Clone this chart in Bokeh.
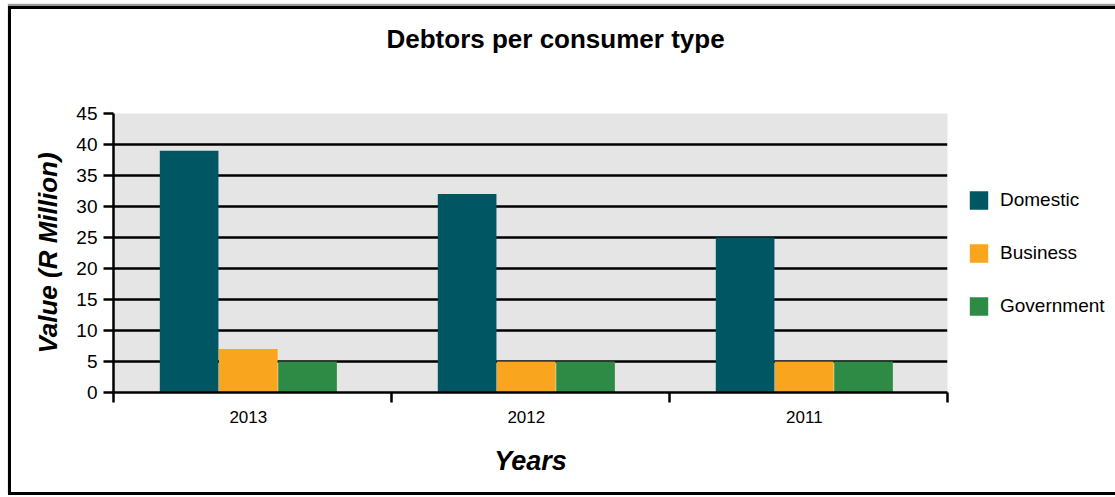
from bokeh.plotting import figure
from bokeh.models import FixedTicker, Legend, LegendItem, ColumnDataSource, Range1d, Title
from bokeh.embed import file_html
from bokeh.resources import INLINE
from bokeh.transform import dodge

# ---- data ----
title_text = "Debtors per consumer type"
years = ["2013", "2012", "2011"]
series = ["Domestic", "Business", "Government"]
domestic = [39, 32, 25]
business = [7, 5, 5]
government = [5, 5, 5]
y_ticks = [0, 5, 10, 15, 20, 25, 30, 35, 40, 45]
colors = ["#005763", "#f9a61e", "#2e8b45"]

x_pos = [round(i + 0.485, 3) for i in range(len(years))]
bounds = list(range(len(years) + 1))

src = ColumnDataSource(dict(x=x_pos, Domestic=domestic, Business=business, Government=government))

p = figure(frame_width=834, frame_height=279, output_backend="svg", toolbar_location=None,
           title=None,
           x_range=Range1d(0, len(years)), y_range=Range1d(0, 45),
           min_border_left=102, min_border_right=160, min_border_top=104, min_border_bottom=100)
p.styles = {"border": "3px solid black", "box-shadow": "0px -2px 1px #999999"}
p.margin = (6, 0, 0, 8)

p.background_fill_color = "#e5e5e5"
p.border_fill_color = "white"
p.outline_line_color = None

offsets = [-0.213, 0.0, 0.213]
renderers = []
for s, off, c in zip(series, offsets, colors):
    r = p.vbar(x=dodge("x", off, range=p.x_range), top=s, width=0.211, bottom=0,
               source=src, fill_color=c, line_color=None)
    renderers.append(r)

# title (spacer nearest the frame, then the real title)
spacer = Title(text=" ", text_font_size="1px", standoff=52)
p.add_layout(spacer, "above")
main_title = Title(text=title_text, text_font="Liberation Sans", text_font_size="26px",
                   text_font_style="bold", text_color="black", align="left", offset=273,
                   standoff=10)
p.add_layout(main_title, "above")

# x axis
xa = p.xaxis[0]
xa.ticker = FixedTicker(ticks=x_pos, minor_ticks=bounds)
xa.major_label_overrides = {x: y for x, y in zip(x_pos, years)}
xa.major_tick_line_color = None
xa.major_tick_out = 10
xa.major_tick_in = 0
xa.minor_tick_line_color = "black"
xa.minor_tick_line_width = 2.5
xa.minor_tick_out = 10
xa.minor_tick_in = 0
xa.axis_line_color = "black"
xa.axis_line_width = 2.5
xa.major_label_text_font = "Liberation Sans"
xa.major_label_text_font_size = "17px"
xa.major_label_text_color = "black"
xa.major_label_standoff = 8
xa.axis_label = "Years"
xa.axis_label_text_font = "Liberation Sans"
xa.axis_label_text_font_size = "27px"
xa.axis_label_text_font_style = "bold italic"
xa.axis_label_text_color = "black"
xa.axis_label_standoff = 20

# y axis
ya = p.yaxis[0]
ya.ticker = FixedTicker(ticks=y_ticks)
ya.minor_tick_line_color = None
ya.major_tick_out = 10
ya.major_tick_in = 0
ya.major_tick_line_width = 2.5
ya.major_tick_line_color = "black"
ya.axis_line_color = "black"
ya.axis_line_width = 2.5
ya.major_label_text_font = "Liberation Sans"
ya.major_label_text_font_size = "19px"
ya.major_label_text_color = "black"
ya.major_label_standoff = 6
ya.axis_label = "Value (R Million)"
ya.axis_label_text_font = "Liberation Sans"
ya.axis_label_text_font_size = "26px"
ya.axis_label_text_font_style = "bold italic"
ya.axis_label_text_color = "black"
ya.axis_label_standoff = 10

# grid
p.xgrid.visible = False
p.ygrid.ticker = FixedTicker(ticks=y_ticks)
p.ygrid.grid_line_color = "black"
p.ygrid.grid_line_width = 2.5
p.ygrid.level = "underlay"

legend = Legend(items=[LegendItem(label=s, renderers=[r]) for s, r in zip(series, renderers)],
                location="center_left", orientation="vertical")
legend.title = " "
legend.title_location = "left"
legend.title_text_font_size = "1px"
legend.title_standoff = 19
legend.glyph_width = 23
legend.glyph_height = 23
legend.label_height = 23
legend.spacing = 30
legend.label_standoff = 10
legend.padding = 0
legend.margin = 0
legend.border_line_color = None
legend.background_fill_color = None
legend.label_text_font = "Liberation Sans"
legend.label_text_font_size = "19px"
legend.label_text_color = "black"
p.add_layout(legend, "right")

open("out.html", "w").write(file_html(p, INLINE))
